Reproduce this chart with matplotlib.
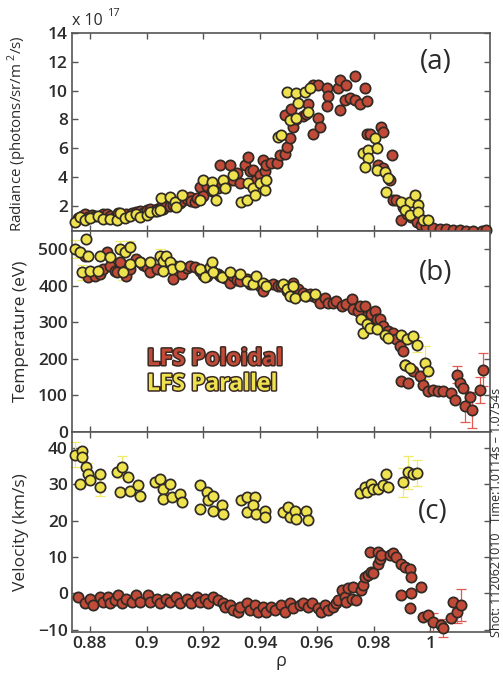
import matplotlib.pyplot as plt
import matplotlib.patheffects as pe
import numpy as np

plt.rcParams['font.family'] = ['Open Sans', 'DejaVu Sans']
plt.rcParams['mathtext.fontset'] = 'custom'
plt.rcParams['mathtext.rm'] = 'Open Sans'

RED = '#c24a38'
YEL = '#eee34e'
EDGE = '#302a24'
RED_ERR = '#e05a50'
YEL_ERR = '#f0ec6a'
TXT = '#2b2b2b'

# (rho, radiance [1e17 photons/sr/m^2/s])
rad_pol = [
    (0.8759, 1.15), (0.8771, 1.3), (0.8782, 1.4), (0.8794, 1.2), (0.8806, 1.35), (0.8818, 1.3),
    (0.8835, 1.25), (0.8847, 1.4), (0.8859, 1.45), (0.8870, 1.3), (0.8888, 1.2), (0.8900, 1.5),
    (0.8917, 1.35), (0.8929, 1.45), (0.8947, 1.5), (0.8964, 1.55), (0.8976, 1.6), (0.8988, 1.5),
    (0.9000, 1.7), (0.9011, 1.75), (0.9029, 1.65), (0.9035, 1.8), (0.9047, 1.85), (0.9058, 1.75),
    (0.9070, 1.95), (0.9082, 2.0), (0.9094, 2.05), (0.9105, 2.15), (0.9117, 2.2), (0.9123, 2.35),
    (0.9141, 2.45), (0.9152, 2.6), (0.9158, 2.3), (0.9170, 2.25), (0.9176, 2.5), (0.9188, 3.3),
    (0.9199, 2.7), (0.9211, 3.4), (0.9229, 3.0), (0.9234, 3.3), (0.9252, 3.2), (0.9258, 4.8),
    (0.9264, 3.5), (0.9276, 3.4), (0.9293, 4.8), (0.9305, 3.8), (0.9317, 4.25), (0.9328, 3.6),
    (0.9346, 4.8), (0.9358, 5.4), (0.9364, 4.4), (0.9375, 4.5), (0.9387, 3.8), (0.9399, 4.1),
    (0.9411, 5.2), (0.9416, 4.4), (0.9422, 4.8), (0.9440, 5.0), (0.9458, 4.95), (0.9469, 5.5),
    (0.9487, 5.6), (0.9493, 6.1), (0.9505, 6.7), (0.9516, 7.5), (0.9487, 8.3), (0.9510, 8.7),
    (0.9528, 8.0), (0.9552, 8.2), (0.9569, 9.1), (0.9563, 8.4), (0.9587, 7.0), (0.9604, 8.1),
    (0.9610, 7.5), (0.9587, 10.4), (0.9604, 10.4), (0.9634, 10.2), (0.9640, 9.6), (0.9634, 8.9),
    (0.9675, 10.2), (0.9681, 10.75), (0.9681, 8.65), (0.9698, 9.35), (0.9704, 10.4), (0.9716, 9.5),
    (0.9734, 9.35), (0.9734, 11.0), (0.9751, 9.1), (0.9769, 10.2), (0.9775, 9.25), (0.9775, 7.0),
    (0.9786, 7.0), (0.9827, 7.5), (0.9833, 7.15), (0.9863, 5.5), (0.9816, 4.8), (0.9833, 4.6),
    (0.9857, 3.8), (0.9869, 2.4), (0.9880, 2.4), (0.9904, 1.9), (0.9898, 1.0), (0.9916, 1.45),
    (0.9933, 1.2), (0.9951, 0.88), (0.9968, 0.65), (0.9986, 0.53), (1.0009, 0.42), (1.0033, 0.35),
    (1.0056, 0.35), (1.0080, 0.3), (1.0103, 0.3), (1.0127, 0.26), (1.0150, 0.26), (1.0180, 0.26),
    (1.0197, 0.3),
]
rad_par = [
    (0.8747, 0.88), (0.8765, 1.23), (0.8782, 1.0), (0.8800, 1.15), (0.8829, 1.3), (0.8847, 1.05),
    (0.8870, 1.1), (0.8894, 1.0), (0.8906, 1.5), (0.8923, 1.15), (0.8941, 1.3), (0.8964, 1.45),
    (0.8976, 1.2), (0.9000, 1.35), (0.9011, 1.55), (0.9035, 1.6), (0.9047, 1.69), (0.9052, 2.5),
    (0.9082, 2.62), (0.9099, 2.27), (0.9123, 2.74), (0.9105, 1.9), (0.9188, 2.39), (0.9199, 3.78),
    (0.9229, 3.67), (0.9234, 3.09), (0.9246, 2.39), (0.9270, 3.78), (0.9276, 3.2), (0.9305, 4.13),
    (0.9334, 2.27), (0.9352, 2.39), (0.9358, 3.55), (0.9375, 3.2), (0.9381, 2.74), (0.9399, 3.55),
    (0.9416, 3.09), (0.9422, 3.78), (0.9463, 6.8), (0.9475, 6.92), (0.9493, 9.93), (0.9528, 9.82),
    (0.9557, 9.93), (0.9575, 10.17), (0.9534, 9.12), (0.9569, 8.54), (0.9505, 7.96), (0.9528, 8.08),
    (0.9763, 5.64), (0.9781, 5.87), (0.9804, 6.69), (0.9810, 5.99), (0.9781, 5.29), (0.9769, 4.71),
    (0.9810, 4.48), (0.9839, 4.36), (0.9851, 3.9), (0.9845, 2.97), (0.9898, 2.27), (0.9927, 2.27),
    (0.9945, 2.74), (0.9957, 2.04), (0.9910, 1.69), (0.9927, 1.35), (0.9957, 1.58), (0.9974, 1.0),
    (0.9992, 1.0),
]
rad_par_err = [(0.9927, 2.27, 0.35), (0.9945, 2.74, 0.3), (0.9957, 2.04, 0.35), (0.9974, 1.0, 0.25)]

# (rho, electron temperature [eV])
te_pol = [
    (0.8782, 482), (0.8794, 422), (0.8818, 425), (0.8835, 431), (0.8847, 445), (0.8859, 491),
    (0.8870, 454), (0.8888, 440), (0.8894, 436), (0.8906, 463), (0.8929, 425), (0.8941, 445),
    (0.8964, 472), (0.8976, 463), (0.8988, 455), (0.9000, 450), (0.9011, 436), (0.9035, 445),
    (0.9058, 477), (0.9070, 455), (0.9094, 418), (0.9100, 454), (0.9123, 431), (0.9141, 447),
    (0.9152, 454), (0.9170, 450), (0.9188, 440), (0.9199, 430), (0.9211, 427), (0.9229, 440),
    (0.9252, 432), (0.9258, 427), (0.9276, 420), (0.9293, 408), (0.9305, 425), (0.9317, 415),
    (0.9328, 413), (0.9352, 418), (0.9364, 405), (0.9375, 410), (0.9399, 400), (0.9411, 385),
    (0.9422, 402), (0.9446, 404), (0.9463, 398), (0.9475, 399), (0.9493, 385), (0.9516, 408),
    (0.9534, 390), (0.9552, 380), (0.9563, 372), (0.9575, 378), (0.9587, 372), (0.9599, 367),
    (0.9610, 353), (0.9628, 367), (0.9640, 353), (0.9657, 353), (0.9669, 358), (0.9687, 344),
    (0.9704, 349), (0.9722, 363), (0.9728, 335), (0.9745, 330), (0.9751, 344), (0.9769, 344),
    (0.9775, 317), (0.9792, 321), (0.9804, 330), (0.9810, 308), (0.9822, 308), (0.9833, 289),
    (0.9851, 276), (0.9869, 271), (0.9880, 253), (0.9892, 234), (0.9904, 221), (0.9910, 184),
    (0.9898, 138), (0.9921, 134), (0.9939, 166), (0.9963, 152), (0.9974, 129), (0.9992, 111),
    (1.0009, 115), (1.0027, 111), (1.0045, 111), (1.0074, 106), (1.0086, 88), (1.0092, 157),
    (1.0103, 134), (1.0115, 120), (1.0121, 70), (1.0139, 97), (1.0145, 60), (1.0174, 115),
    (1.0186, 170),
]
te_par = [
    (0.8747, 500), (0.8765, 491), (0.8788, 527), (0.8794, 482), (0.8771, 436), (0.8800, 440),
    (0.8835, 482), (0.8829, 440), (0.8870, 477), (0.8906, 500), (0.8923, 491), (0.8941, 505),
    (0.8917, 436), (0.8941, 459), (0.8976, 463), (0.9011, 463), (0.9047, 482), (0.9058, 468),
    (0.9070, 482), (0.9082, 463), (0.9088, 445), (0.9117, 454), (0.9058, 440), (0.9188, 445),
    (0.9205, 422), (0.9223, 450), (0.9229, 463), (0.9234, 436), (0.9264, 422), (0.9293, 436),
    (0.9328, 431), (0.9352, 413), (0.9375, 404), (0.9387, 427), (0.9411, 408), (0.9422, 399),
    (0.9481, 404), (0.9493, 390), (0.9505, 372), (0.9516, 399), (0.9522, 367), (0.9557, 372),
    (0.9593, 376), (0.9757, 308), (0.9763, 271), (0.9775, 294), (0.9787, 285), (0.9810, 280),
    (0.9839, 266), (0.9851, 257), (0.9898, 266), (0.9916, 253), (0.9939, 262), (0.9951, 239),
    (0.9910, 184), (0.9927, 175), (0.9980, 189), (0.9992, 166),
]
te_pol_err = [(1.0092, 157, 22), (1.0121, 70, 42), (1.0145, 60, 48), (1.0174, 115, 35), (1.0186, 170, 45)]
te_par_err = [(0.8747, 500, 25), (0.8771, 436, 20), (0.8906, 500, 22), (0.8941, 505, 18),
              (0.8917, 436, 22), (0.9047, 482, 18), (0.9951, 239, 20), (0.9980, 189, 45)]

# (rho, velocity [km/s])
vel_pol = [
    (0.8759, -0.9), (0.8782, -2.7), (0.8800, -1.4), (0.8812, -3.2), (0.8835, -0.9), (0.8847, -2.3),
    (0.8865, -0.9), (0.8870, -2.7), (0.8888, -1.8), (0.8900, -0.5), (0.8912, -2.7), (0.8929, -1.4),
    (0.8947, -2.3), (0.8964, -0.5), (0.8976, -2.3), (0.9005, -0.5), (0.9011, -2.3), (0.9035, -1.4),
    (0.9047, -2.7), (0.9070, -1.4), (0.9082, -2.3), (0.9105, -0.9), (0.9117, -2.7), (0.9141, -1.4),
    (0.9158, -2.7), (0.9176, -0.9), (0.9188, -2.3), (0.9205, -1.4), (0.9217, -2.7), (0.9234, -0.9),
    (0.9252, -1.8), (0.9270, -2.7), (0.9276, -3.7), (0.9293, -3.2), (0.9305, -4.6), (0.9323, -5.0),
    (0.9328, -3.7), (0.9352, -2.7), (0.9364, -4.6), (0.9381, -3.2), (0.9393, -5.0), (0.9411, -3.7),
    (0.9422, -5.0), (0.9440, -3.7), (0.9452, -4.6), (0.9475, -3.2), (0.9487, -5.0), (0.9505, -2.7),
    (0.9516, -4.1), (0.9540, -3.2), (0.9552, -2.7), (0.9569, -3.7), (0.9581, -2.7), (0.9604, -4.1),
    (0.9616, -5.0), (0.9628, -3.2), (0.9640, -4.6), (0.9657, -3.7), (0.9669, -2.7), (0.9675, -1.8),
    (0.9687, 0.9), (0.9698, -0.9), (0.9710, 1.4), (0.9704, -2.3), (0.9722, -1.4), (0.9728, 1.8),
    (0.9739, -1.8), (0.9757, 0.9), (0.9763, 2.3), (0.9769, 4.6), (0.9781, 5.0), (0.9792, 5.9),
    (0.9798, 5.5), (0.9816, 8.2), (0.9822, 9.6), (0.9786, 11.4), (0.9816, 11.4), (0.9827, 10.5),
    (0.9857, 10.5), (0.9869, 11.0), (0.9880, 10.0), (0.9898, 8.2), (0.9910, 7.3), (0.9927, 6.8),
    (0.9933, 4.6), (0.9898, -0.5), (0.9933, 0.0), (0.9927, -4.1), (0.9968, 1.8), (0.9974, -6.4),
    (0.9992, -5.9), (1.0009, -7.8), (1.0039, -8.7), (1.0045, -9.6), (1.0074, -6.8), (1.0080, -2.3),
    (1.0092, -5.0), (1.0109, -3.2),
]
vel_par = [
    (0.8747, 38.2), (0.8771, 39.3), (0.8771, 37.4), (0.8788, 34.7), (0.8794, 32.9), (0.8765, 30.1),
    (0.8800, 31.1), (0.8835, 32.9), (0.8835, 29.2), (0.8894, 33.3), (0.8912, 34.7), (0.8906, 27.9),
    (0.8935, 32.0), (0.8941, 28.3), (0.8970, 29.7), (0.8976, 26.9), (0.9029, 30.6), (0.9047, 31.5),
    (0.9058, 28.8), (0.9058, 26.0), (0.9082, 30.1), (0.9088, 26.5), (0.9117, 27.4), (0.9123, 25.1),
    (0.9188, 29.7), (0.9188, 23.3), (0.9211, 27.9), (0.9217, 25.6), (0.9234, 26.9), (0.9234, 22.8),
    (0.9264, 24.2), (0.9270, 21.9), (0.9334, 25.6), (0.9352, 26.5), (0.9352, 22.4), (0.9381, 26.5),
    (0.9375, 24.2), (0.9387, 21.9), (0.9416, 22.8), (0.9416, 21.0), (0.9481, 22.4), (0.9499, 23.7),
    (0.9505, 21.0), (0.9522, 22.8), (0.9528, 20.5), (0.9563, 22.8), (0.9569, 20.1),
    (0.9751, 27.6), (0.9769, 29.2), (0.9775, 27.9), (0.9792, 30.1), (0.9798, 28.8), (0.9816, 28.8),
    (0.9833, 29.7), (0.9845, 32.9), (0.9851, 29.2), (0.9904, 30.6), (0.9921, 33.3), (0.9939, 32.9),
    (0.9951, 33.1),
]
vel_pol_err = [(1.0009, -7.8, 2.5), (1.0045, -9.6, 2.5), (1.0092, -5.0, 3.0), (1.0109, -3.2, 4.5)]
vel_par_err = [(0.8747, 38.2, 3.5), (0.8794, 32.9, 3.0), (0.8835, 29.2, 2.5), (0.8912, 34.7, 3.0),
               (0.9904, 30.6, 4.0), (0.9921, 33.3, 4.5), (0.9951, 33.1, 3.5)]

xticks = [0.88, 0.9, 0.92, 0.94, 0.96, 0.98, 1.0]
xticklabels = ['0.88', '0.9', '0.92', '0.94', '0.96', '0.98', '1']


def style(ax, ylim, yticks):
    ax.set_xlim(0.8737, 1.021)
    ax.set_ylim(*ylim)
    ax.set_xticks(xticks)
    ax.set_yticks(yticks)
    ax.tick_params(direction='in', length=4, width=1, top=True, right=True,
                   labelsize=12.5, color='#555555', labelcolor=TXT, pad=3)
    for lab in ax.get_xticklabels() + ax.get_yticklabels():
        lab.set_fontweight('semibold')
    for s in ax.spines.values():
        s.set_linewidth(1.2)
        s.set_color('#555555')
    ax.yaxis.set_label_coords(-0.103, 0.5)


def draw(ax, pts, face, err=None, ecolor=None):
    if err:
        ex, ey, ee = np.array(err).T
        ax.errorbar(ex, ey, yerr=ee, fmt='none', ecolor=ecolor, elinewidth=0.9,
                    capsize=3.5, capthick=0.9, zorder=2, clip_on=False)
    x, y = np.array(pts).T
    ax.plot(x, y, 'o', ms=7.4, mfc=face, mec=EDGE, mew=1.25, clip_on=False, zorder=3)


fig = plt.figure(figsize=(5.03, 6.81), dpi=100)
L, W = 0.1431, 0.8311
ax_a = fig.add_axes([L, 0.6608, W, 0.2907])
ax_b = fig.add_axes([L, 0.3656, W, 0.2952])
ax_c = fig.add_axes([L, 0.0720, W, 0.2936])

draw(ax_a, rad_pol, RED)
draw(ax_a, rad_par, YEL, rad_par_err, YEL_ERR)
ax_a.set_xticklabels([])
style(ax_a, (0.24, 14), range(2, 15, 2))
ax_a.set_ylabel('Radiance (photons/sr/m$^{\\ 2}$/s)', fontsize=10.8, color=TXT)
ax_a.yaxis.set_label_coords(-0.103, 0.49)

draw(ax_b, te_pol, RED, te_pol_err, RED_ERR)
draw(ax_b, te_par, YEL, te_par_err, YEL_ERR)
ax_b.set_xticklabels([])
style(ax_b, (0, 549), range(0, 501, 100))
ax_b.set_ylabel('Temperature (eV)', fontsize=12.5, color=TXT)

draw(ax_c, vel_par, YEL, vel_par_err, YEL_ERR)
draw(ax_c, vel_pol, RED, vel_pol_err, RED_ERR)
style(ax_c, (-10.6, 44.4), range(-10, 41, 10))
ax_c.set_xticklabels(xticklabels, fontweight='semibold')
ax_c.set_yticklabels(['\u221210', '0', '10', '20', '30', '40'], fontweight='semibold')
ax_c.set_ylabel('Velocity (km/s)', fontsize=12.5, color=TXT)
ax_c.set_xlabel('\u03c1', fontsize=13, color=TXT, labelpad=0)

# exponent of the radiance axis
fig.text(0.143, 0.963, 'x 10', fontsize=11.5, color=TXT)
fig.text(0.213, 0.977, '17', fontsize=8, color=TXT)

# panel tags
fig.text(0.867, 0.909, '(a)', fontsize=20, color=TXT, ha='center', va='center')
fig.text(0.867, 0.599, '(b)', fontsize=20, color=TXT, ha='center', va='center')
fig.text(0.861, 0.248, '(c)', fontsize=20, color=TXT, ha='center', va='center')

# series key
outline = [pe.withStroke(linewidth=2.2, foreground='#3a2a22')]
fig.text(0.292, 0.464, 'LFS Poloidal', fontsize=16.5, fontweight='bold', color=RED,
         path_effects=outline)
fig.text(0.292, 0.427, 'LFS Parallel', fontsize=16.5, fontweight='bold', color=YEL,
         path_effects=outline)

fig.text(0.988, 0.064, 'Shot: 1120621010   Time:1.0114s \u2013 1.0754s', fontsize=9,
         color=TXT, rotation=90, ha='center', va='bottom')

fig.savefig('out.png', dpi=100, facecolor='white')
